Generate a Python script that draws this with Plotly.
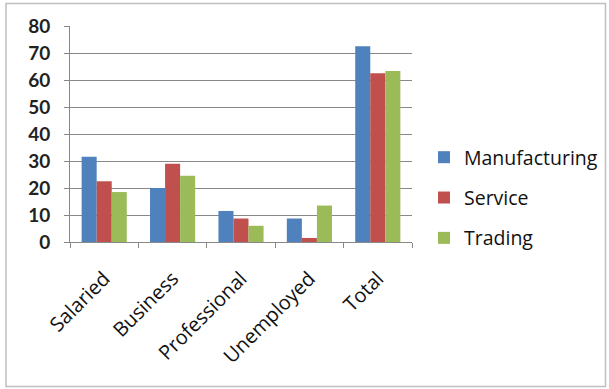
import plotly.graph_objects as go

categories = ["Salaried", "Business", "Professional", "Unemployed", "Total"]
manufacturing = [31.6, 20.0, 11.5, 8.7, 72.5]
service = [22.5, 29.0, 8.7, 1.5, 62.5]
trading = [18.5, 24.5, 6.0, 13.5, 63.3]
series_names = ["Manufacturing", "Service", "Trading"]
colors = ["#4F81BD", "#C0504D", "#9BBB59"]
y_ticks = [0, 10, 20, 30, 40, 50, 60, 70, 80]

W, H = 609, 389
L, R, T, B = 70, 197, 26, 147
pw, ph = W - L - R, H - T - B

fig = go.Figure()
for i, (name, vals) in enumerate(zip(series_names, [manufacturing, service, trading])):
    fig.add_trace(go.Bar(x=categories, y=vals, name=name, marker_color=colors[i],
                         marker_line_width=0, legendgroup=name))

def px2x(p):
    return (p - L) / pw

def px2y(p):
    return (H - B - p) / ph

fig.add_shape(type="rect", xref="paper", yref="paper",
              x0=px2x(6), x1=px2x(605.5), y0=px2y(386.5), y1=px2y(3.5),
              line=dict(color="#BFBFBF", width=1.5), layer="below")

fig.update_layout(
    width=W, height=H,
    margin=dict(l=L, r=R, t=T, b=B, autoexpand=False),
    paper_bgcolor="white", plot_bgcolor="white",
    barmode="group", bargap=0.34, bargroupgap=0,
    font=dict(family="Open Sans, sans-serif", color="#000000"),
    legend=dict(x=px2x(424), y=px2y(138), xanchor="left", yanchor="top",
                font=dict(size=19.5, family="Open Sans, sans-serif", color="#111111"),
                tracegroupgap=12, bgcolor="rgba(0,0,0,0)"),
    showlegend=True,
)
fig.update_xaxes(
    showline=True, linecolor="#888888", linewidth=1,
    ticks="outside", tickson="boundaries", ticklen=5, tickcolor="#888888",
    tickangle=-45, tickfont=dict(size=20, family="Open Sans, sans-serif", color="#111111"),
    ticklabelstandoff=16,
    showgrid=False,
)
fig.update_yaxes(
    range=[0, 80], tickvals=y_ticks,
    showline=True, linecolor="#888888", linewidth=1,
    ticks="outside", ticklen=5, tickcolor="#888888",
    showgrid=True, gridcolor="#888888", gridwidth=1,
    tickfont=dict(size=19, family="Lato, sans-serif", weight="bold", color="#222222"),
    ticklabelstandoff=10,
    zeroline=False,
)

fig.write_html("out.html")
